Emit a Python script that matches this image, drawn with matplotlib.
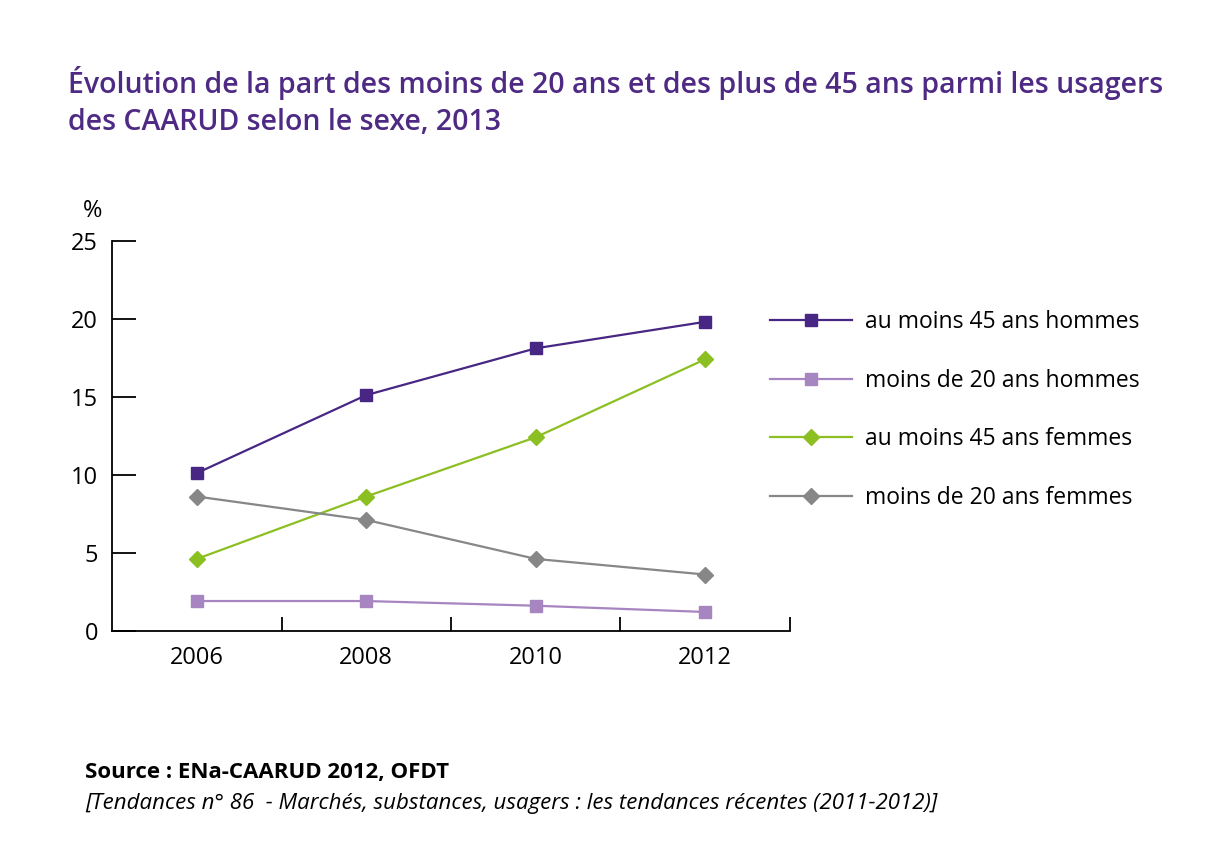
import matplotlib

matplotlib.use("Agg")
import matplotlib.pyplot as plt
from matplotlib.lines import Line2D

YEARS = ["2006", "2008", "2010", "2012"]
SERIES_NAMES = [
    "au moins 45 ans hommes",
    "moins de 20 ans hommes",
    "au moins 45 ans femmes",
    "moins de 20 ans femmes",
]
H45 = [10.1, 15.1, 18.1, 19.8]
H20 = [1.9, 1.9, 1.6, 1.2]
F45 = [4.6, 8.6, 12.4, 17.4]
F20 = [8.6, 7.1, 4.6, 3.6]

COLORS = ["#472783", "#a785c0", "#8cbf22", "#878787"]
MARKERS = ["s", "s", "D", "D"]

FONT = "Open Sans"
plt.rcParams["font.family"] = [FONT, "DejaVu Sans"]

fig = plt.figure(figsize=(12.14, 8.63), dpi=100)
ax = fig.add_axes([0.0923, 0.2692, 0.5584, 0.4519])


def msize(m):
    return 9 if m == "s" else 8.5


xs = list(range(len(YEARS)))
for vals, c, m, name in zip([H45, H20, F45, F20], COLORS, MARKERS, SERIES_NAMES):
    ax.plot(xs, vals, color=c, marker=m, markersize=msize(m),
            linewidth=1.6, label=name, zorder=3)

ax.set_xlim(-0.5, 3.5)
ax.set_ylim(0, 25)
ax.set_yticks([0, 5, 10, 15, 20, 25])
ax.set_xticks(xs)
ax.set_xticklabels(YEARS)
ax.set_xticks([0.5, 1.5, 2.5, 3.5], minor=True)
for s in ("top", "right"):
    ax.spines[s].set_visible(False)
for s in ("left", "bottom"):
    ax.spines[s].set_linewidth(1.3)
ax.tick_params(axis="y", direction="in", length=17, width=1.3, labelsize=17, pad=10)
ax.tick_params(axis="x", which="major", length=0, labelsize=17, pad=11)
ax.tick_params(axis="x", which="minor", direction="in", length=10, width=1.3)

ax.text(-0.015, 1.045, "%", transform=ax.transAxes, fontsize=17, ha="right", va="bottom")

handles = [Line2D([0], [0], color=c, marker=m, markersize=msize(m),
                  linewidth=1.6) for c, m in zip(COLORS, MARKERS)]
fig.legend(handles, SERIES_NAMES, loc="upper left", bbox_to_anchor=(0.617, 0.665),
           frameon=False, fontsize=16.5, handlelength=3.6, handletextpad=0.55,
           labelspacing=1.52)

fig.text(0.056, 0.882,
         "Évolution de la part des moins de 20 ans et des plus de 45 ans parmi les usagers\n"
         "des CAARUD selon le sexe, 2013",
         fontsize=20.5, color="#4e2a84", fontweight="semibold", ha="left", va="center",
         linespacing=1.35)

fig.text(0.07, 0.105, "Source : ENa-CAARUD 2012, OFDT", fontsize=16,
         fontweight="bold", ha="left", va="center")
fig.text(0.07, 0.069,
         "[Tendances n° 86  - Marchés, substances, usagers : les tendances récentes (2011-2012)]",
         fontsize=16, style="italic", ha="left", va="center")

fig.savefig("out.png", dpi=100)
